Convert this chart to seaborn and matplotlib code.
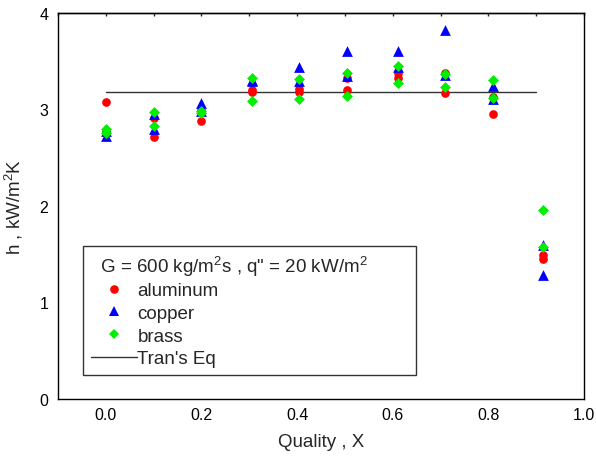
import numpy as np
import pandas as pd
import matplotlib
matplotlib.use("Agg")
import matplotlib.pyplot as plt
from matplotlib.ticker import MultipleLocator
from matplotlib.lines import Line2D
import seaborn as sns

# ---- data ----
quality = [0.0, 0.1, 0.2, 0.305, 0.405, 0.505, 0.61, 0.71, 0.81, 0.915]
aluminum_run1 = [3.08, 2.91, 3.00, 3.20, 3.21, 3.33, 3.38, 3.38, 3.13, 1.49]
aluminum_run2 = [2.78, 2.72, 2.88, 3.18, 3.18, 3.20, 3.33, 3.17, 2.95, 1.45]
copper_run1 = [2.78, 2.95, 3.07, 3.31, 3.44, 3.61, 3.61, 3.82, 3.24, 1.60]
copper_run2 = [2.73, 2.80, 2.98, 3.30, 3.30, 3.35, 3.44, 3.36, 3.11, 1.28]
brass_run1 = [2.80, 2.97, 2.98, 3.33, 3.32, 3.38, 3.45, 3.37, 3.31, 1.96]
brass_run2 = [2.76, 2.83, 2.96, 3.09, 3.11, 3.14, 3.27, 3.23, 3.12, 1.57]
tran_x = [0.0, 0.9]
tran_h = [3.18, 3.18]
x_ticks = [0.0, 0.2, 0.4, 0.6, 0.8, 1.0]
y_ticks = [0, 1, 2, 3, 4]

sns.set_theme(style="white")
plt.rcParams['font.family'] = ['Liberation Sans', 'DejaVu Sans']
plt.rcParams['mathtext.fontset'] = 'custom'
plt.rcParams['mathtext.rm'] = 'Liberation Sans'
plt.rcParams['mathtext.it'] = 'Liberation Sans'

fig = plt.figure(figsize=(5.96, 4.60), dpi=100)
ax = fig.add_axes([58/596, 1-400/460, (584-58)/596, (400-14)/460])

series = [
    ("aluminum", aluminum_run1, aluminum_run2, "#ff0000", "o", 39),
    ("copper", copper_run1, copper_run2, "#0000ff", "^", 60),
    ("brass", brass_run1, brass_run2, "#00ee00", "D", 31),
]
for name, r1, r2, col, mk, s in series:
    df = pd.DataFrame({"x": quality + quality, "h": r1 + r2})
    sns.scatterplot(data=df, x="x", y="h", color=col, marker=mk, s=s,
                    linewidth=0, ax=ax, legend=False, zorder=3)

sns.lineplot(x=tran_x, y=tran_h, color="#333333", linewidth=1.0, ax=ax,
             zorder=2, legend=False)

ax.set_xlim(-0.1, 1.0)
ax.set_ylim(0, 4)
ax.set_xticks(x_ticks)
ax.set_xticklabels([f"{v:.1f}" for v in x_ticks])
ax.set_yticks(y_ticks)
ax.set_yticklabels([f"{v}" for v in y_ticks])
ax.xaxis.set_minor_locator(MultipleLocator(0.1))
ax.yaxis.set_minor_locator(MultipleLocator(0.5))

ax.tick_params(which="both", direction="in", colors="black", labelsize=11.5,
               top=False, right=False)
ax.tick_params(which="major", length=5, width=1)
ax.tick_params(which="minor", length=3, width=1)
ax.tick_params(axis="x", pad=6)
ax.tick_params(axis="y", pad=7)
for sp in ax.spines.values():
    sp.set_color("black")
    sp.set_linewidth(1.0)

# short ticks on the top edge
sec = ax.secondary_xaxis("top")
sec.set_xticks(x_ticks)
sec.xaxis.set_minor_locator(MultipleLocator(0.1))
sec.tick_params(which="both", direction="in", length=2, width=1, labeltop=False)
sec.spines["top"].set_linewidth(1.0)

ax.set_xlabel("Quality , X", fontsize=13.5, labelpad=8)
ax.set_ylabel("h , kW/m$^2$K", fontsize=13.5, labelpad=10)

handles = [
    Line2D([], [], color="#ff0000", marker="o", linestyle="none", markersize=6.2, markeredgewidth=0),
    Line2D([], [], color="#0000ff", marker="^", linestyle="none", markersize=7.7, markeredgewidth=0),
    Line2D([], [], color="#00ee00", marker="D", linestyle="none", markersize=5.6, markeredgewidth=0),
    Line2D([], [], color="#333333", linewidth=1.0),
]
labels = ["aluminum", "copper", "brass", "Tran's Eq"]
x0 = (83-58)/526
x1 = (416-58)/526
y0 = (400-376)/386
leg = ax.legend(handles, labels,
                title="  G = 600 kg/m$^2$s , q\" = 20 kW/m$^2$",
                loc="lower left", bbox_to_anchor=(x0, y0, x1-x0, 0.3),
                mode="expand", alignment="left", fontsize=13.5,
                title_fontsize=13.5, frameon=True, fancybox=False,
                edgecolor="#333333", framealpha=1, handlelength=2.5,
                handletextpad=0.0, labelspacing=0.3, borderpad=0.4,
                borderaxespad=0, shadow=False)
leg.get_frame().set_linewidth(1.0)
leg._legend_box.sep = 3

fig.savefig("out.png", dpi=100)
